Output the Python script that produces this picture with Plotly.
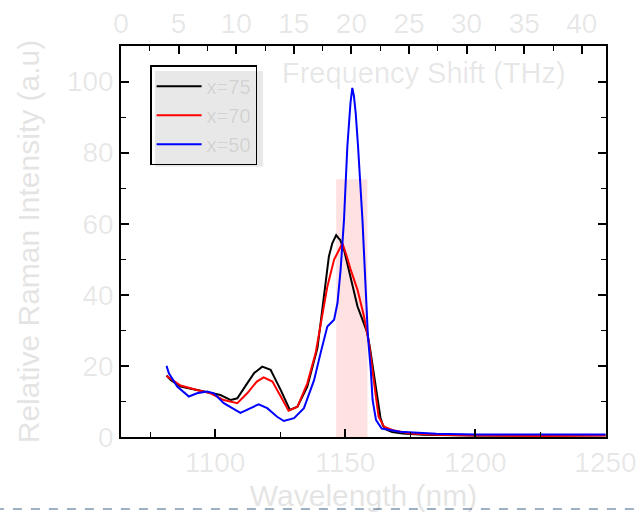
import plotly.graph_objects as go

# ---- data ----
wl_75 = [1081.3, 1083.0, 1086.7, 1091.8, 1098.2, 1102.0, 1106.0, 1108.5, 1112.3, 1115.0,
         1118.1, 1121.3, 1125.2, 1128.7, 1131.6, 1135.4, 1137.3, 1139.3, 1140.5, 1141.8,
         1143.1, 1143.7, 1145.0, 1146.5, 1147.3, 1148.0, 1149.5, 1150.8, 1152.1, 1153.4,
         1154.7, 1156.6, 1158.5, 1159.5, 1160.5, 1161.5, 1162.5, 1163.5, 1164.5, 1166.0,
         1168.0, 1172.0, 1180.0, 1200.0, 1225.0, 1250.0]
int_75 = [17.3, 16.0, 14.2, 13.4, 12.6, 11.8, 10.4, 10.9, 15.1, 18.0,
          19.8, 18.9, 13.2, 7.6, 8.5, 14.2, 19.5, 25.0, 32.0, 39.5,
          47.0, 50.8, 54.5, 56.8, 56.0, 55.5, 52.7, 48.5, 45.2, 40.5,
          36.7, 33.0, 29.2, 25.0, 20.0, 14.5, 9.5, 5.5, 3.2, 2.0,
          1.4, 1.0, 0.6, 0.4, 0.4, 0.5]

wl_70 = [1081.3, 1083.0, 1086.7, 1093.0, 1098.2, 1103.3, 1108.5, 1112.3, 1116.0, 1118.6,
         1122.0, 1125.2, 1128.2, 1131.6, 1135.4, 1138.6, 1141.2, 1143.1, 1145.7, 1147.5,
         1148.9, 1150.5, 1152.1, 1154.7, 1157.2, 1159.1, 1160.4, 1161.6, 1162.8, 1164.9,
         1168.8, 1175.0, 1185.0, 1200.0, 1225.0, 1250.0]
int_70 = [17.2, 16.3, 14.5, 13.2, 12.3, 10.4, 9.5, 12.3, 15.6, 16.8,
          15.6, 11.4, 7.4, 8.5, 15.1, 23.6, 34.8, 42.3, 49.9, 52.5,
          54.5, 51.0, 47.0, 41.4, 33.9, 26.4, 19.8, 12.3, 5.7, 2.9,
          1.8, 1.0, 0.6, 0.4, 0.3, 0.4]

wl_50 = [1081.3, 1082.2, 1085.4, 1089.9, 1093.0, 1096.9, 1099.5, 1103.3, 1109.7, 1113.5,
         1116.7, 1120.0, 1123.8, 1126.4, 1130.3, 1134.1, 1138.0, 1140.5, 1141.8, 1143.1,
         1145.7, 1147.0, 1148.2, 1149.5, 1150.2, 1150.8, 1152.0, 1152.7, 1153.3, 1154.0,
         1154.9, 1155.7, 1156.6, 1157.8, 1158.7, 1159.8, 1160.5, 1161.8, 1164.0, 1171.0,
         1185.0, 1200.0, 1225.0, 1250.0]
int_50 = [20.0, 17.9, 14.2, 11.4, 12.3, 12.8, 12.3, 9.5, 6.8, 8.1,
          9.2, 8.1, 5.7, 4.5, 5.3, 8.1, 16.0, 23.6, 27.3, 31.1,
          33.0, 37.7, 47.0, 61.0, 72.4, 81.8, 94.0, 98.2, 96.0, 91.2,
          81.8, 72.4, 61.0, 42.3, 28.3, 18.9, 10.4, 4.8, 2.4, 1.5,
          0.9, 0.7, 0.6, 0.7]

series = [("x=75", wl_75, int_75, "black"),
          ("x=70", wl_70, int_70, "red"),
          ("x=50", wl_50, int_50, "blue")]

band_x = [1146.5, 1158.5]
band_top = 72.5

wl_range = [1063.8, 1250.2]
freq_range = [0, 42.1]
int_range = [0, 110]

label_color = "rgba(0,0,0,0.1)"
font_family = "Liberation Sans, Arial, sans-serif"

fig = go.Figure()
for name, xs, ys, col in series:
    fig.add_trace(go.Scatter(x=xs, y=ys, mode="lines", name=name,
                             line=dict(color=col, width=2)))
# empty trace to anchor top axis
fig.add_trace(go.Scatter(x=[], y=[], xaxis="x2", yaxis="y", showlegend=False))

fig.add_shape(type="rect", xref="x", yref="y", x0=band_x[0], x1=band_x[1],
              y0=0, y1=band_top, fillcolor="rgba(255,200,200,0.55)",
              line=dict(width=0), layer="below")
# legend shadow
fig.add_shape(type="rect", xref="paper", yref="paper", x0=0.070, x1=0.293,
              y0=0.691, y1=0.936, fillcolor="#e8e8e8", line=dict(width=0), layer="below")
# dashed separator line
fig.add_shape(type="line", xref="paper", yref="paper", x0=-0.26, x1=1.08,
              y0=-0.184, y1=-0.184, line=dict(color="#9db0c4", width=2, dash="dash"))

fig.add_annotation(text="Frequency Shift (THz)", xref="paper", yref="paper",
                   x=0.625, y=0.931, xanchor="center", yanchor="middle", showarrow=False,
                   font=dict(size=29, color=label_color, family=font_family))

axis_common = dict(showline=True, linecolor="black", linewidth=1.5,
                   ticks="inside", tickcolor="black", tickwidth=1.5, ticklen=8,
                   showgrid=False, zeroline=False, automargin=False,
                   tickfont=dict(size=28, color=label_color, family=font_family))

fig.update_layout(
    width=640, height=513,
    margin=dict(l=121, r=34, t=46, b=76, autoexpand=False),
    paper_bgcolor="white", plot_bgcolor="white",
    font=dict(family=font_family, color=label_color),
    xaxis=dict(range=wl_range, tickvals=[1100, 1150, 1200, 1250],
               minor=dict(dtick=25, tick0=1075, ticks="inside", ticklen=5,
                          tickcolor="black", tickwidth=1.2),
               title=dict(text="Wavelength (nm)", standoff=8,
                          font=dict(size=30, color=label_color, family=font_family)),
               **axis_common),
    xaxis2=dict(range=freq_range, overlaying="x", side="top", anchor="y",
                tickvals=[0, 5, 10, 15, 20, 25, 30, 35, 40],
                minor=dict(dtick=2.5, tick0=0, ticks="inside", ticklen=5,
                           tickcolor="black", tickwidth=1.2),
                **axis_common),
    yaxis=dict(range=int_range, tickvals=[0, 20, 40, 60, 80, 100],
               mirror="ticks",
               minor=dict(dtick=10, tick0=0, ticks="inside", ticklen=5,
                          tickcolor="black", tickwidth=1.2),
               title=dict(text="Relative Raman Intensity (a.u)", standoff=18,
                          font=dict(size=30, color=label_color, family=font_family)),
               **axis_common),
    legend=dict(x=0.06, y=0.951, xanchor="left", yanchor="top",
                bgcolor="rgba(0,0,0,0)", bordercolor="black", borderwidth=1.5,
                font=dict(size=20, color=label_color, family=font_family),
                tracegroupgap=0, itemwidth=45),
    showlegend=True,
)

fig.write_html("out.html")
